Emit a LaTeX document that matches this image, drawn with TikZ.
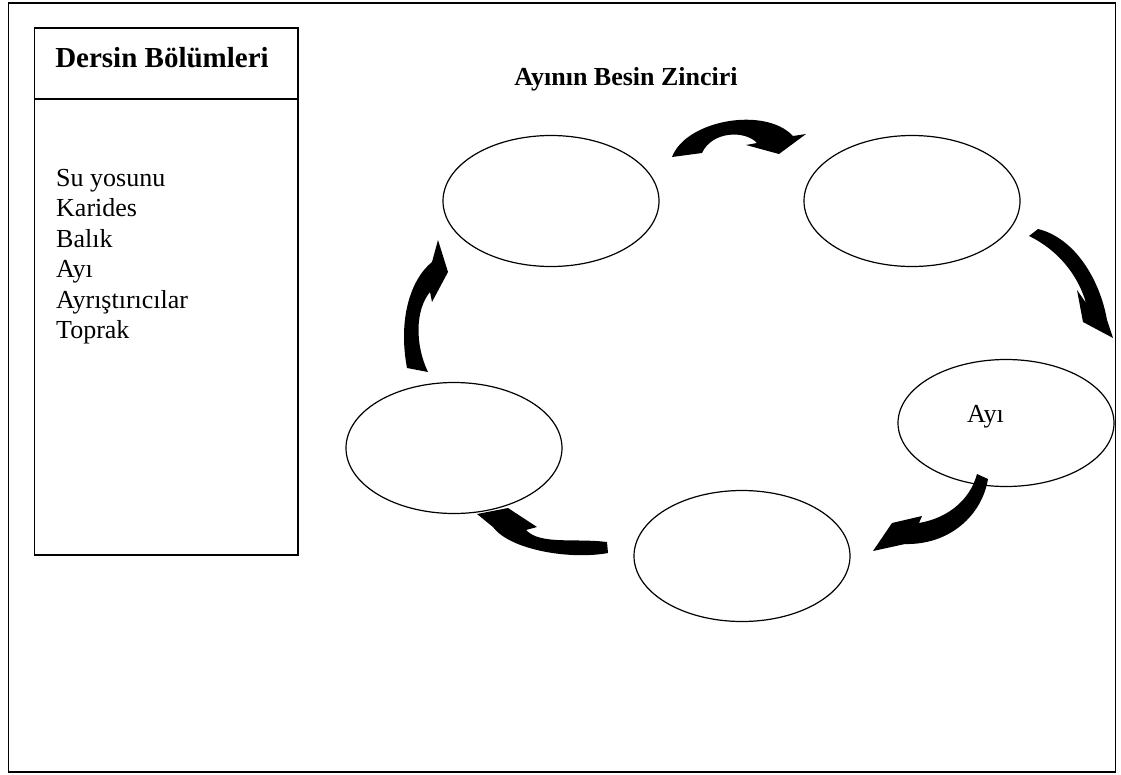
\documentclass[tikz,border=0pt]{standalone}
\usepackage{fontspec}
\setmainfont{Liberation Serif}
\usetikzlibrary{shapes.geometric}
\begin{document}
\begin{tikzpicture}[x=1pt,y=-1pt,
  frame/.style={draw=black,line width=1.5pt},
  oval/.style={draw=black,line width=1.2pt,ellipse,minimum width=216pt,minimum height=131pt,inner sep=0pt},
  bodytxt/.style={font=\fontsize{26}{30}\selectfont,inner sep=0pt,anchor=base west},
  headtxt/.style={font=\fontsize{29}{30}\selectfont\bfseries,inner sep=0pt,anchor=base},
  curvedarrow/.style={fill=black,draw=none}]
\useasboundingbox (0,0) rectangle (1121,774);
\fill[white] (0,0) rectangle (1121,774);
% outer frame
\draw[frame] (8.5,3) rectangle (1115.5,772);
% left panel
\draw[frame] (34.5,28) rectangle (298,555);
\draw[frame] (34.5,99) -- (298,99);
\node[headtxt] (lefttitle) at (162,67) {Dersin Bölümleri};
\node[bodytxt] (l1) at (56,186) {Su yosunu};
\node[bodytxt] (l2) at (56,216.5) {Karides};
\node[bodytxt] (l3) at (56,247) {Balık};
\node[bodytxt] (l4) at (56,277.5) {Ayı};
\node[bodytxt] (l5) at (56,308) {Ayrıştırıcılar};
\node[bodytxt] (l6) at (56,338.5) {Toprak};
% chain title
\node[headtxt,font=\fontsize{26}{28}\selectfont\bfseries] (chaintitle) at (626,85) {Ayının Besin Zinciri};
% ellipses
\node[oval] (e1) at (551,201) {};
\node[oval] (e2) at (912,201) {};
\node[oval,minimum height=127pt] (e3) at (1006,423) {};
\node[oval] (e4) at (742,556) {};
\node[oval] (e5) at (454,448) {};
\node[bodytxt] (ayi) at (967,422) {Ayı};
% curved arrows
\path[curvedarrow] (672,157) .. controls (686,120) and (765,106) .. (793,136)
  -- (806,134) -- (779,154) -- (746,145) -- (757,143)
  .. controls (745,130) and (712,131) .. (702,153) -- cycle;
\path[curvedarrow] (1029,236) -- (1038,229) .. controls (1075,238) and (1100,280) .. (1107,320)
  -- (1113,338) -- (1083,322) -- (1077,290) -- (1086,303)
  .. controls (1078,275) and (1058,250) .. (1029,236) -- cycle;
\path[curvedarrow] (977,474) -- (988,479) .. controls (982,515) and (950,545) .. (905,544)
  -- (873,551) -- (892,523) -- (922,516) -- (919,523)
  .. controls (948,518) and (970,500) .. (977,474) -- cycle;
\path[curvedarrow] (607,542) -- (608,553) .. controls (570,560) and (510,550) .. (493,527)
  -- (477,514) -- (508,508) -- (537,527) -- (526,530)
  .. controls (540,545) and (575,538) .. (607,542) -- cycle;
\path[curvedarrow] (407,368) .. controls (398,320) and (410,280) .. (432,262)
  -- (438,240) -- (448,272) -- (432,302) -- (430,292)
  .. controls (415,310) and (415,345) .. (428,372) -- cycle;
\end{tikzpicture}
\end{document}
